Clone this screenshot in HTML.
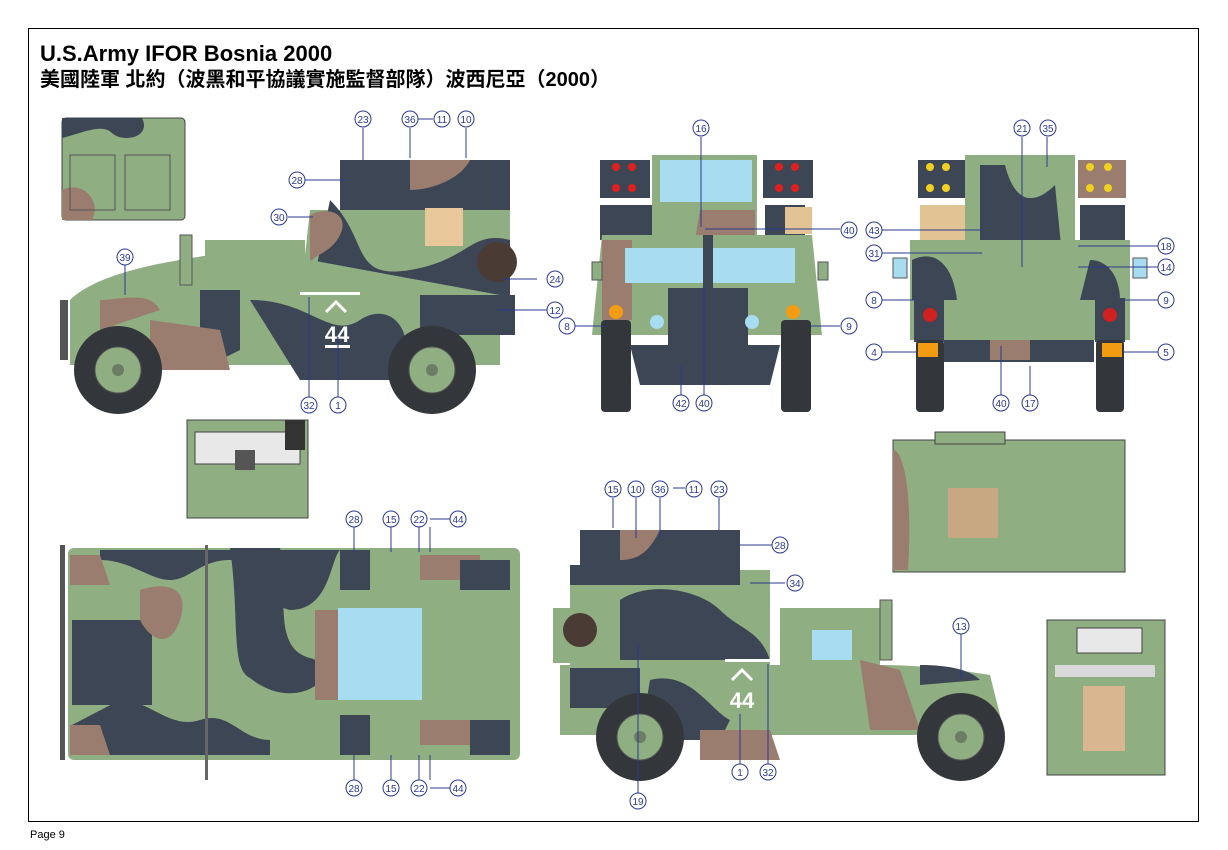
<!DOCTYPE html>
<html><head><meta charset="utf-8"><style>
html,body{margin:0;padding:0;background:#fff;width:1228px;height:850px;overflow:hidden}
svg{display:block}
text{font-family:"Liberation Sans","Noto Sans CJK TC",sans-serif}
.c circle{fill:#fff;stroke:#2b3990;stroke-width:1}
.c text{fill:#2b3990;font-size:10px;text-anchor:middle}
.l{stroke:#2b3990;stroke-width:1;fill:none}
</style></head><body>
<svg width="1228" height="850" viewBox="0 0 1228 850">
<defs>
<g id="wheel"><circle r="44" fill="#33363a"/><circle r="23" fill="#8fae82" stroke="#555" stroke-width="1"/><circle r="6" fill="#6b7d62"/></g>
</defs>
<rect x="28.5" y="28.5" width="1170" height="793" fill="#fff" stroke="#000" stroke-width="1"/>
<text x="40" y="61" font-size="22" font-weight="bold">U.S.Army IFOR Bosnia 2000</text>
<text x="40" y="86" font-size="20" font-weight="bold">美國陸軍 北約（波黑和平協議實施監督部隊）波西尼亞（2000）</text>
<text x="30" y="838" font-size="11">Page 9</text>

<!-- small roof panel -->
<rect x="62" y="118" width="123" height="102" rx="4" fill="#8fae82" stroke="#444"/>
<path d="M62 118h80c10 20-20 25-30 15s-30 0-50 5z" fill="#3d4655"/>
<path d="M62 190c20-10 40 10 30 30h-30z" fill="#9a7d6e"/>
<rect x="70" y="155" width="45" height="55" fill="none" stroke="#555"/><rect x="125" y="155" width="45" height="55" fill="none" stroke="#555"/>

<!-- SIDE VIEW 1 -->
<g>
<rect x="340" y="160" width="170" height="50" fill="#3d4655"/>
<path d="M310 210h200v90H300z" fill="#8fae82"/>
<path d="M330 200c40 40 20 80 80 70s60-40 100-30v60H310z" fill="#3d4655"/>
<path d="M410 160h60c-10 20-40 30-60 30z" fill="#9a7d6e"/>
<path d="M310 215c20-10 40 0 30 20s-30 20-30 30z" fill="#9a7d6e"/>
<rect x="425" y="208" width="38" height="38" fill="#e8c89a"/>
<circle cx="497" cy="262" r="20" fill="#4a3b35"/>
<path d="M205 240h100v60H205z" fill="#8fae82"/>
<rect x="228" y="262" width="40" height="30" fill="#a8dcf0"/>
<path d="M70 300c30-30 110-40 140-45l100 5 190 35v70H70z" fill="#8fae82"/>
<path d="M200 290h40v60l-40 20z" fill="#3d4655"/>
<path d="M250 300c60 0 80 40 110 20s60 10 40 60H300z" fill="#3d4655"/>
<path d="M100 300c20 0 50-10 60 10l-60 20z" fill="#9a7d6e"/>
<path d="M150 320l70 10 10 40h-80z" fill="#9a7d6e"/>
<path d="M420 295h95v40h-95z" fill="#3d4655"/>
<rect x="180" y="235" width="12" height="50" fill="#8fae82" stroke="#555"/>
<rect x="300" y="292" width="60" height="3" fill="#fff"/>
<text x="337" y="342" font-size="22" font-weight="bold" fill="#fff" text-anchor="middle">44</text>
<path d="M326 312l10-10 10 10" stroke="#fff" stroke-width="3" fill="none"/>
<rect x="325" y="345" width="25" height="3" fill="#fff"/>
<rect x="60" y="300" width="8" height="60" fill="#555"/>
<use href="#wheel" x="118" y="370"/><use href="#wheel" x="432" y="370"/>
</g>
<g class="c">
<path class="l" d="M363 128v32M410 128v30M418 119h15M466 128v30M305 180h40M288 217h25M537 279h-35M548 310h-50M125 265v30M309 397v-100M338 397v-60"/>
<circle cx="363" cy="119" r="8"/><text x="363" y="123">23</text>
<circle cx="410" cy="119" r="8"/><text x="410" y="123">36</text>
<circle cx="442" cy="119" r="8"/><text x="442" y="123">11</text>
<circle cx="466" cy="119" r="8"/><text x="466" y="123">10</text>
<circle cx="297" cy="180" r="8"/><text x="297" y="184">28</text>
<circle cx="279" cy="217" r="8"/><text x="279" y="221">30</text>
<circle cx="125" cy="257" r="8"/><text x="125" y="261">39</text>
<circle cx="555" cy="279" r="8"/><text x="555" y="283">24</text>
<circle cx="555" cy="310" r="8"/><text x="555" y="314">12</text>
<circle cx="309" cy="405" r="8"/><text x="309" y="409">32</text>
<circle cx="338" cy="405" r="8"/><text x="338" y="409">1</text>
</g>

<!-- panel small -->
<rect x="187" y="420" width="121" height="98" fill="#8fae82" stroke="#444"/>
<rect x="195" y="432" width="105" height="32" fill="#e8e8e8" stroke="#444"/>
<rect x="285" y="420" width="20" height="30" fill="#333"/>
<rect x="235" y="450" width="20" height="20" fill="#555"/>

<!-- FRONT VIEW -->
<g>
<rect x="600" y="160" width="50" height="38" fill="#3d4655"/><rect x="763" y="160" width="50" height="38" fill="#3d4655"/>
<g fill="#e02020"><circle cx="616" cy="167" r="4"/><circle cx="632" cy="167" r="4"/><circle cx="616" cy="188" r="4"/><circle cx="632" cy="188" r="4"/><circle cx="779" cy="167" r="4"/><circle cx="795" cy="167" r="4"/><circle cx="779" cy="188" r="4"/><circle cx="795" cy="188" r="4"/></g>
<rect x="652" y="155" width="105" height="85" fill="#8fae82"/>
<rect x="660" y="160" width="92" height="42" fill="#a8dcf0"/>
<path d="M700 210h55v30h-60z" fill="#9a7d6e"/>
<rect x="600" y="205" width="52" height="35" fill="#3d4655"/>
<rect x="765" y="205" width="40" height="30" fill="#3d4655"/><rect x="785" y="207" width="27" height="27" fill="#e2c393"/>
<path d="M602 235h210l10 100H592z" fill="#8fae82"/>
<path d="M602 240h30v80h-30z" fill="#9a7d6e"/>
<rect x="625" y="248" width="78" height="35" fill="#a8dcf0"/><rect x="710" y="248" width="85" height="35" fill="#a8dcf0"/>
<rect x="703" y="235" width="10" height="60" fill="#3d4655"/>
<rect x="668" y="288" width="80" height="65" fill="#3d4655"/>
<circle cx="657" cy="322" r="7" fill="#a8dcf0"/><circle cx="752" cy="322" r="7" fill="#a8dcf0"/>
<circle cx="616" cy="312" r="7" fill="#f39c12"/><circle cx="793" cy="312" r="7" fill="#f39c12"/>
<rect x="601" y="320" width="30" height="92" rx="4" fill="#33363a"/><rect x="781" y="320" width="30" height="92" rx="4" fill="#33363a"/>
<path d="M630 345h150l-10 40h-130z" fill="#3d4655"/>
<rect x="592" y="262" width="10" height="18" fill="#8fae82" stroke="#555"/><rect x="818" y="262" width="10" height="18" fill="#8fae82" stroke="#555"/>
</g>
<g class="c">
<path class="l" d="M701 137v90M705 229h135M575 326h30M840 326h-30M681 396v-30M704 396v-110"/>
<circle cx="701" cy="128" r="8"/><text x="701" y="132">16</text>
<circle cx="849" cy="230" r="8"/><text x="849" y="234">40</text>
<circle cx="567" cy="326" r="8"/><text x="567" y="330">8</text>
<circle cx="849" cy="326" r="8"/><text x="849" y="330">9</text>
<circle cx="681" cy="403" r="8"/><text x="681" y="407">42</text>
<circle cx="704" cy="403" r="8"/><text x="704" y="407">40</text>
</g>

<!-- REAR VIEW -->
<g>
<rect x="918" y="160" width="48" height="38" fill="#3d4655"/><rect x="1078" y="160" width="48" height="38" fill="#9a7d6e"/>
<g fill="#f0d020"><circle cx="930" cy="167" r="4"/><circle cx="946" cy="167" r="4"/><circle cx="930" cy="188" r="4"/><circle cx="946" cy="188" r="4"/><circle cx="1090" cy="167" r="4"/><circle cx="1108" cy="167" r="4"/><circle cx="1090" cy="188" r="4"/><circle cx="1108" cy="188" r="4"/></g>
<rect x="965" y="155" width="110" height="140" fill="#8fae82"/>
<path d="M980 165h25c10 40 30 40 50 20l10 100h-85z" fill="#3d4655"/>
<path d="M1010 270c20-20 40-20 55-10v25h-55z" fill="#9a7d6e"/>
<rect x="920" y="205" width="45" height="40" fill="#e2c393"/>
<rect x="1080" y="205" width="45" height="40" fill="#3d4655"/>
<rect x="910" y="240" width="220" height="100" fill="#8fae82"/>
<path d="M912 260c20-10 40 0 45 40h-45z" fill="#3d4655"/>
<path d="M1090 260c20 0 30 20 30 40h-40z" fill="#3d4655"/>
<rect x="914" y="298" width="30" height="44" fill="#3d4655"/><rect x="1095" y="298" width="30" height="44" fill="#3d4655"/>
<circle cx="930" cy="315" r="7" fill="#d02020"/><circle cx="1110" cy="315" r="7" fill="#d02020"/>
<rect x="916" y="340" width="28" height="72" rx="4" fill="#33363a"/><rect x="1096" y="340" width="28" height="72" rx="4" fill="#33363a"/>
<rect x="918" y="343" width="20" height="14" fill="#f39c12"/><rect x="1102" y="343" width="20" height="14" fill="#f39c12"/>
<rect x="944" y="340" width="150" height="22" fill="#3d4655"/>
<path d="M990 340h40v20h-40z" fill="#9a7d6e"/>
<rect x="893" y="258" width="14" height="20" fill="#a8dcf0" stroke="#555"/><rect x="1133" y="258" width="14" height="20" fill="#a8dcf0" stroke="#555"/>
</g>
<g class="c">
<path class="l" d="M1022 137v130M1047 137v30M882 230h100M882 253h100M1158 246h-80M1158 267h-80M882 300h35M1158 300h-35M882 352h35M1158 352h-35M1001 396v-50M1030 396v-30"/>
<circle cx="1022" cy="128" r="8"/><text x="1022" y="132">21</text>
<circle cx="1048" cy="128" r="8"/><text x="1048" y="132">35</text>
<circle cx="874" cy="230" r="8"/><text x="874" y="234">43</text>
<circle cx="874" cy="253" r="8"/><text x="874" y="257">31</text>
<circle cx="874" cy="300" r="8"/><text x="874" y="304">8</text>
<circle cx="874" cy="352" r="8"/><text x="874" y="356">4</text>
<circle cx="1166" cy="246" r="8"/><text x="1166" y="250">18</text>
<circle cx="1166" cy="267" r="8"/><text x="1166" y="271">14</text>
<circle cx="1166" cy="300" r="8"/><text x="1166" y="304">9</text>
<circle cx="1166" cy="352" r="8"/><text x="1166" y="356">5</text>
<circle cx="1001" cy="403" r="8"/><text x="1001" y="407">40</text>
<circle cx="1030" cy="403" r="8"/><text x="1030" y="407">17</text>
</g>

<!-- rear panel top view -->
<rect x="893" y="440" width="232" height="132" fill="#8fae82" stroke="#444"/>
<path d="M893 450c10 0 20 40 15 120h-15z" fill="#9a7d6e"/>
<rect x="948" y="488" width="50" height="50" fill="#c8a882"/>
<rect x="935" y="432" width="70" height="12" fill="#8fae82" stroke="#444"/>
<!-- rear panel 2 -->
<rect x="1047" y="620" width="118" height="155" fill="#8fae82" stroke="#444"/>
<rect x="1077" y="628" width="65" height="25" fill="#e8e8e8" stroke="#444"/>
<rect x="1055" y="665" width="100" height="12" fill="#d8d8d8"/>
<rect x="1083" y="686" width="42" height="65" fill="#d9b690"/>

<!-- TOP VIEW -->
<g>
<rect x="68" y="548" width="452" height="212" rx="6" fill="#8fae82"/>
<path d="M100 560c30 0 50 20 70 20s30-20 60-20 20 40 60 50c40 0 40-50 50-60H100z" fill="#3d4655"/>
<path d="M230 548h50c10 40-10 100 30 110 40 10-10 60-60 20-20-10-10-60-20-130z" fill="#3d4655"/>
<rect x="72" y="620" width="80" height="85" fill="#3d4655"/>
<path d="M120 700c30 0 50 30 80 20s40 20 70 20v15H72v-30z" fill="#3d4655"/>
<path d="M70 555h30l10 30H70zM70 725h30l10 30H70z" fill="#9a7d6e"/>
<path d="M140 590c30-10 50 0 40 30s-30 20-40 0z" fill="#9a7d6e"/>
<rect x="340" y="550" width="30" height="40" fill="#3d4655"/><rect x="340" y="715" width="30" height="40" fill="#3d4655"/>
<path d="M420 555h60v25h-60zM420 720h50v25h-50z" fill="#9a7d6e"/>
<path d="M460 560h50v30h-50zM470 720h40v35h-40z" fill="#3d4655"/>
<rect x="338" y="608" width="84" height="92" fill="#a8dcf0"/>
<path d="M315 610h23v90h-23z" fill="#9a7d6e"/>
<rect x="60" y="545" width="5" height="215" fill="#555"/>
<rect x="205" y="545" width="3" height="235" fill="#666"/>
</g>
<g class="c">
<path class="l" d="M354 527v25M391 527v25M419 527v25M430 527v25M354 780v-25M391 780v-25M419 780v-25M430 780v-25 M430 788h20M430 519h20"/>
<circle cx="354" cy="519" r="8"/><text x="354" y="523">28</text>
<circle cx="391" cy="519" r="8"/><text x="391" y="523">15</text>
<circle cx="419" cy="519" r="8"/><text x="419" y="523">22</text>
<circle cx="458" cy="519" r="8"/><text x="458" y="523">44</text>
<circle cx="354" cy="788" r="8"/><text x="354" y="792">28</text>
<circle cx="391" cy="788" r="8"/><text x="391" y="792">15</text>
<circle cx="419" cy="788" r="8"/><text x="419" y="792">22</text>
<circle cx="458" cy="788" r="8"/><text x="458" y="792">44</text>
</g>

<!-- SIDE VIEW 2 -->
<g>
<rect x="580" y="530" width="160" height="40" fill="#3d4655"/>
<path d="M620 530h40c-10 20-20 30-40 30z" fill="#9a7d6e"/>
<path d="M570 570h200v100H570z" fill="#8fae82"/>
<path d="M570 565h170v20H570z" fill="#3d4655"/>
<path d="M620 600c30-20 80-10 100 10s40 20 50 50H620z" fill="#3d4655"/>
<rect x="553" y="608" width="60" height="55" fill="#8fae82"/>
<circle cx="580" cy="630" r="17" fill="#4a3b35"/>
<path d="M780 608h100v60H780z" fill="#8fae82"/>
<rect x="812" y="630" width="40" height="30" fill="#a8dcf0"/>
<path d="M560 665h320c40 0 80 5 110 10l15 60H560z" fill="#8fae82"/>
<path d="M570 668h70v40h-70z" fill="#3d4655"/>
<path d="M650 680c40-10 60 30 80 40l-10 20h-80z" fill="#3d4655"/>
<path d="M860 660l40 10 20 60h-50z" fill="#9a7d6e"/>
<path d="M920 665c30 0 50 5 60 15l-60 5z" fill="#3d4655"/>
<path d="M700 730h70l10 30h-80z" fill="#9a7d6e"/>
<rect x="880" y="600" width="12" height="60" fill="#8fae82" stroke="#555"/>
<rect x="725" y="659" width="50" height="3" fill="#fff"/>
<text x="742" y="708" font-size="22" font-weight="bold" fill="#fff" text-anchor="middle">44</text>
<path d="M732 680l10-10 10 10" stroke="#fff" stroke-width="3" fill="none"/>
<use href="#wheel" x="640" y="737"/><use href="#wheel" x="961" y="737"/>
</g>
<g class="c">
<path class="l" d="M613 498v30M636 498v40M660 498v40M673 488h12M719 498v32M740 545h32M750 583h35M961 634v45M740 764v-50M768 764v-100M638 793v-150"/>
<circle cx="613" cy="489" r="8"/><text x="613" y="493">15</text>
<circle cx="636" cy="489" r="8"/><text x="636" y="493">10</text>
<circle cx="660" cy="489" r="8"/><text x="660" y="493">36</text>
<circle cx="694" cy="489" r="8"/><text x="694" y="493">11</text>
<circle cx="719" cy="489" r="8"/><text x="719" y="493">23</text>
<circle cx="780" cy="545" r="8"/><text x="780" y="549">28</text>
<circle cx="795" cy="583" r="8"/><text x="795" y="587">34</text>
<circle cx="961" cy="626" r="8"/><text x="961" y="630">13</text>
<circle cx="740" cy="772" r="8"/><text x="740" y="776">1</text>
<circle cx="768" cy="772" r="8"/><text x="768" y="776">32</text>
<circle cx="638" cy="801" r="8"/><text x="638" y="805">19</text>
</g>
</svg>
</body></html>
